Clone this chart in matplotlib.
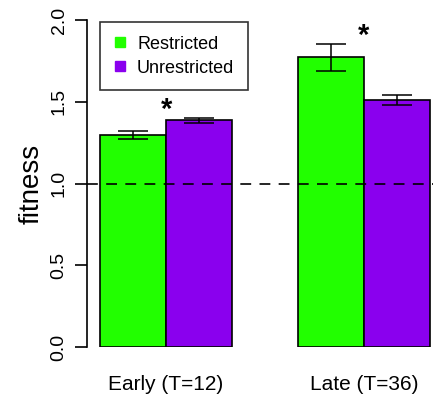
import matplotlib.pyplot as plt
import numpy as np
from matplotlib.lines import Line2D

plt.rcParams['font.family'] = ['Liberation Sans', 'DejaVu Sans']

groups = ["Early (T=12)", "Late (T=36)"]
series = ["Restricted", "Unrestricted"]
restricted = [1.295, 1.771]
restricted_err = [0.025, 0.08]
unrestricted = [1.386, 1.512]
unrestricted_err = [0.014, 0.031]
signif = ["*", "*"]

green = "#22FF00"
purple = "#8A00EE"

fig = plt.figure(figsize=(4.33, 3.96), dpi=100)
ax = fig.add_axes([87/433, 49/396, 346/433, 327/396])

x = np.array([0.0, 3.0])
ax.bar(x, restricted, width=1, align='edge', color=green, edgecolor='black', linewidth=1.2)
ax.bar(x + 1, unrestricted, width=1, align='edge', color=purple, edgecolor='black', linewidth=1.2)
ax.errorbar(x + 0.5, restricted, yerr=restricted_err, fmt='none', ecolor='black',
            elinewidth=1.1, capsize=11, capthick=1.1)
ax.errorbar(x + 1.5, unrestricted, yerr=unrestricted_err, fmt='none', ecolor='black',
            elinewidth=1.1, capsize=11, capthick=1.1)

# significance stars above the taller bar of each pair
for xi, r, re, u, ue, s in zip(x, restricted, restricted_err, unrestricted, unrestricted_err, signif):
    top = max(r + re, u + ue)
    ax.text(xi + 1, top - 0.035, s, ha='center', va='bottom', fontsize=21, fontweight='bold')

ax.axhline(1.0, color='black', linestyle=(0, (6.5, 5)), linewidth=1.2)

ax.set_xlim(-0.2, 5.05)
ax.set_ylim(0, 2)
ax.set_yticks([0, 0.5, 1.0, 1.5, 2.0])
ax.set_yticklabels(["0.0", "0.5", "1.0", "1.5", "2.0"], rotation=90, va='center', fontsize=14)
ax.set_xticks(x + 1)
ax.set_xticklabels(groups, fontsize=15)
ax.tick_params(axis='x', length=0, pad=20)
ax.tick_params(axis='y', length=9, width=1.2, pad=5)
for sp in ['top', 'right', 'bottom']:
    ax.spines[sp].set_visible(False)
ax.spines['left'].set_linewidth(1.2)
ax.set_ylabel("fitness", fontsize=20, labelpad=4)

handles = [Line2D([], [], marker='s', linestyle='none', markersize=7,
                  markerfacecolor=c, markeredgecolor=c) for c in (green, purple)]
leg = fig.legend(handles, series, loc='upper left', bbox_to_anchor=(100/433, 1 - 22/396),
                 bbox_transform=fig.transFigure, fontsize=13, frameon=True,
                 fancybox=False, handlelength=0.7, handletextpad=0.6,
                 borderpad=0.75, labelspacing=0.4, borderaxespad=0)
leg.get_frame().set_edgecolor('black')
leg.get_frame().set_linewidth(1.2)

fig.savefig("out.png", dpi=100)
